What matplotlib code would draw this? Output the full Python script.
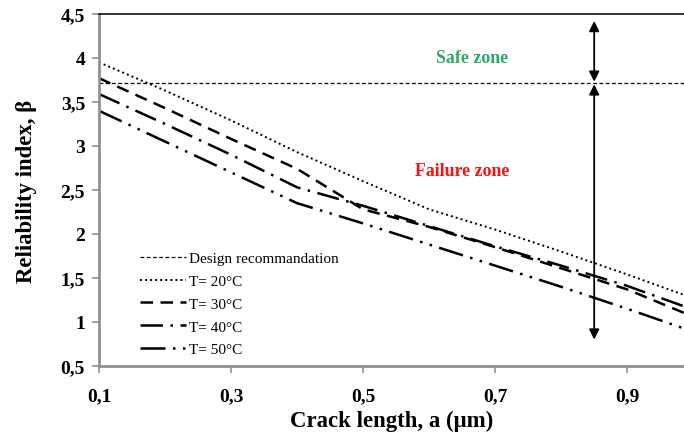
import matplotlib
matplotlib.use('Agg')
import matplotlib.pyplot as plt

# Données
a = [0.1, 0.2, 0.3, 0.4, 0.5, 0.6, 0.7, 0.8, 0.9, 1.0]
beta_20 = [3.95, 3.63, 3.29, 2.93, 2.60, 2.28, 2.05, 1.80, 1.54, 1.27]
beta_30 = [3.77, 3.43, 3.08, 2.74, 2.28, 2.08, 1.85, 1.61, 1.37, 1.06]
beta_40 = [3.59, 3.25, 2.90, 2.53, 2.32, 2.09, 1.86, 1.64, 1.41, 1.14]
beta_50 = [3.40, 3.05, 2.70, 2.35, 2.12, 1.88, 1.64, 1.40, 1.15, 0.89]
beta_design = 3.72
x_ticks = [0.1, 0.3, 0.5, 0.7, 0.9]
x_labels = ['0,1', '0,3', '0,5', '0,7', '0,9']
y_ticks = [0.5, 1, 1.5, 2, 2.5, 3, 3.5, 4, 4.5]
y_labels = ['0,5', '1', '1,5', '2', '2,5', '3', '3,5', '4', '4,5']

plt.rcParams['font.family'] = 'Liberation Serif'

fig = plt.figure(figsize=(6.84, 4.39), dpi=100)
ax = fig.add_axes([0.1447, 0.164, 0.8553, 0.802])

ax.axhline(beta_design, color='black', lw=0.9, linestyle=(0, (3, 2)), label='Design recommandation')
ax.plot(a, beta_20, color='black', lw=1.4, linestyle=(0, (1, 1.6)), label='T= 20°C')
ax.plot(a, beta_30, color='black', lw=1.8, linestyle=(0, (5, 3)), label='T= 30°C')
ax.plot(a, beta_40, color='black', lw=1.8, linestyle=(0, (9, 3, 1, 3)), label='T= 40°C')
ax.plot(a, beta_50, color='black', lw=1.8, linestyle=(0, (10, 3, 1, 3, 1, 3)), label='T= 50°C')

# Flèches des zones
ax.annotate('', xy=(0.85, 3.73), xytext=(0.85, 4.42),
            arrowprops=dict(arrowstyle='<|-|>', color='black', lw=1.3, mutation_scale=15, shrinkA=0, shrinkB=0))
ax.annotate('', xy=(0.85, 3.70), xytext=(0.85, 0.80),
            arrowprops=dict(arrowstyle='<|-|>', color='black', lw=1.3, mutation_scale=15, shrinkA=0, shrinkB=0))

ax.text(0.665, 4.0, 'Safe zone', color='#2ea86a', fontsize=12.8, fontweight='bold', ha='center', va='center')
ax.text(0.65, 2.72, 'Failure zone', color='#ff1010', fontsize=12.8, fontweight='bold', ha='center', va='center')

ax.set_xlim(0.1, 0.986)
ax.set_ylim(0.5, 4.5)
ax.set_xticks(x_ticks)
ax.set_xticklabels(x_labels)
ax.set_yticks(y_ticks)
ax.set_yticklabels(y_labels)
for lab in ax.get_xticklabels() + ax.get_yticklabels():
    lab.set_fontweight('bold')
    lab.set_fontsize(14)
ax.tick_params(axis='both', direction='out', length=5, width=1.2, color='#909090')
ax.tick_params(axis='x', pad=10)
ax.tick_params(axis='y', pad=5)

ax.spines['left'].set_color('#909090')
ax.spines['left'].set_linewidth(2)
ax.spines['bottom'].set_color('#909090')
ax.spines['bottom'].set_linewidth(2)
ax.spines['top'].set_linewidth(1.1)
ax.spines['right'].set_visible(False)

ax.set_xlabel('Crack length, a (\u00b5m)', fontsize=16.4, fontweight='bold', labelpad=4)
ax.set_ylabel('Reliability index, \u03b2', fontsize=16.4, fontweight='bold', labelpad=17)

ax.legend(loc='upper left', bbox_to_anchor=(0.06, 0.343), frameon=False, fontsize=11,
          handlelength=3.0, handletextpad=0.2, labelspacing=0.6, borderaxespad=0)

fig.savefig('out.png', dpi=100)
